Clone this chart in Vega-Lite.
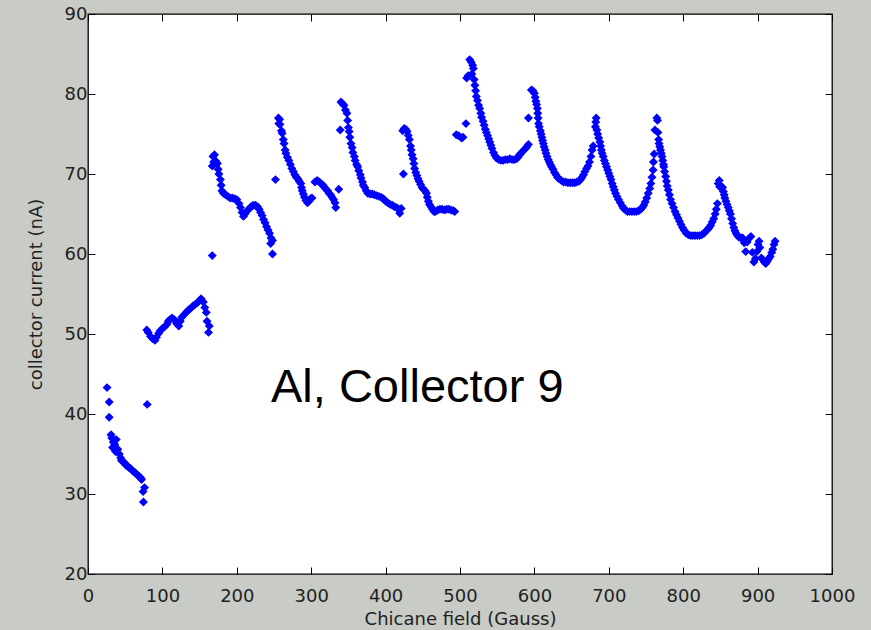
{
"$schema": "https://vega.github.io/schema/vega-lite/v6.json",
"width": 744, "height": 560,
"autosize": {"type": "none"},
"padding": {"left": 88, "top": 14, "right": 39, "bottom": 56},
"background": "#c8cbc6",
"config": {
  "view": {"fill": "#ffffff", "stroke": "#000000", "strokeWidth": 1.3},
  "axis": {"domain": false, "grid": false, "tickColor": "#000000", "tickSize": -7, "tickWidth": 1, "labelFlush": false, "labelOverlap": false,
           "labelFont": "DejaVu Sans", "labelFontSize": 18, "labelColor": "#222222",
           "titleFont": "DejaVu Sans", "titleFontSize": 18, "titleFontWeight": "normal", "titleColor": "#222222"}
},
"datasets": {
"pts": [
{"x":25.6,"y":43.3},{"x":28.5,"y":41.5},{"x":28.5,"y":39.6},{"x":31,"y":37.4},{"x":32,"y":37},{"x":34,"y":36.5},{"x":33,"y":35.8},{"x":36,"y":36.2},{"x":38,"y":36.8},{"x":37,"y":35.3},{"x":40,"y":35.6},{"x":42,"y":35},{"x":44,"y":34.5},{"x":45,"y":34.2},{"x":47,"y":34},{"x":49,"y":33.9},{"x":51,"y":33.6},{"x":53,"y":33.5},{"x":55,"y":33.3},{"x":57,"y":33.2},{"x":59,"y":33},{"x":61,"y":32.8},{"x":63,"y":32.7},{"x":65,"y":32.5},{"x":67,"y":32.3},{"x":69,"y":32.2},{"x":71,"y":32},{"x":72,"y":31.8},{"x":76,"y":30.8},{"x":74,"y":30.3},{"x":74.5,"y":29},{"x":79.6,"y":41.2},
{"x":79,"y":50.5},{"x":81,"y":50.2},{"x":84,"y":49.7},{"x":87,"y":49.4},{"x":90,"y":49.2},{"x":92,"y":49.6},{"x":95,"y":50.1},{"x":97,"y":50.4},{"x":100,"y":50.7},{"x":103,"y":50.9},{"x":106,"y":51.2},{"x":108,"y":51.6},{"x":110,"y":51.8},{"x":113,"y":52},{"x":116,"y":51.8},{"x":119,"y":51.3},{"x":122,"y":51},{"x":124,"y":51.6},{"x":126,"y":52.1},{"x":129,"y":52.4},{"x":132,"y":52.7},{"x":135,"y":53},{"x":138,"y":53.2},{"x":141,"y":53.5},{"x":144,"y":53.7},{"x":147,"y":53.9},{"x":150,"y":54.2},{"x":152,"y":54.4},{"x":155,"y":54},{"x":157,"y":53.3},{"x":159,"y":52.7},{"x":160,"y":51.6},{"x":163,"y":51},{"x":162,"y":50.2},
{"x":167,"y":59.8},
{"x":168,"y":72.2},{"x":170,"y":72.4},{"x":169,"y":71.5},{"x":167,"y":71},{"x":172,"y":71.6},{"x":174,"y":71.3},{"x":175,"y":70.6},{"x":176,"y":70},{"x":178,"y":69.3},{"x":179,"y":68.6},{"x":180,"y":67.9},{"x":182,"y":67.6},{"x":185,"y":67.4},{"x":188,"y":67.2},{"x":191,"y":67},{"x":194,"y":67},{"x":197,"y":66.9},{"x":200,"y":66.8},{"x":203,"y":66.3},{"x":205,"y":65.8},{"x":207,"y":65.2},{"x":209,"y":64.7},{"x":211,"y":65},{"x":213,"y":65.3},{"x":216,"y":65.6},{"x":219,"y":65.9},{"x":222,"y":66.1},{"x":225,"y":66.1},{"x":228,"y":65.9},{"x":230,"y":65.6},{"x":232,"y":65.2},{"x":234,"y":64.8},{"x":236,"y":64.3},{"x":238,"y":63.9},{"x":240,"y":63.4},{"x":242,"y":63},{"x":244,"y":62.6},{"x":246,"y":62},{"x":248,"y":61.7},{"x":245.5,"y":61.3},{"x":248,"y":60},
{"x":252,"y":69.3},
{"x":256,"y":77},{"x":257.5,"y":76.8},{"x":256.5,"y":76.3},{"x":258,"y":76.2},{"x":260,"y":75.4},{"x":261,"y":75.1},{"x":262.5,"y":74.3},{"x":263.5,"y":73.8},{"x":265,"y":73},{"x":266,"y":72.6},{"x":268,"y":72.1},{"x":270,"y":71.7},{"x":272,"y":71.2},{"x":274,"y":70.7},{"x":276,"y":70.3},{"x":278,"y":69.9},{"x":280,"y":69.6},{"x":282,"y":69.4},{"x":284,"y":69.1},{"x":286,"y":68.8},{"x":287,"y":68.3},{"x":288,"y":67.9},{"x":289.5,"y":67.5},{"x":291,"y":67.1},{"x":293,"y":66.7},{"x":295,"y":66.4},{"x":297,"y":66.6},{"x":299,"y":66.9},{"x":301,"y":67},
{"x":305,"y":69},{"x":308,"y":69.2},{"x":311,"y":69},{"x":313,"y":68.8},{"x":316,"y":68.6},{"x":318,"y":68.3},{"x":320,"y":68.1},{"x":322,"y":67.9},{"x":324,"y":67.6},{"x":326,"y":67.4},{"x":328,"y":67.1},{"x":330,"y":66.8},{"x":332,"y":66.4},{"x":333,"y":65.8},{"x":337,"y":68.1},
{"x":339,"y":75.5},{"x":340,"y":79},{"x":342,"y":78.8},{"x":344,"y":78.6},{"x":346,"y":78},{"x":348,"y":77.6},{"x":349,"y":76.7},{"x":350,"y":75.8},{"x":351,"y":75.3},{"x":352,"y":74.6},{"x":353.5,"y":73.8},{"x":355,"y":73.3},{"x":356,"y":72.7},{"x":358,"y":72.2},{"x":359,"y":71.7},{"x":361,"y":71.2},{"x":362.5,"y":70.9},{"x":364,"y":70.4},{"x":366,"y":69.9},{"x":367,"y":69.5},{"x":369,"y":69},{"x":370,"y":68.6},{"x":372,"y":68.3},{"x":374,"y":67.9},{"x":376,"y":67.6},{"x":379,"y":67.5},{"x":382,"y":67.5},{"x":385,"y":67.4},{"x":388,"y":67.3},{"x":391,"y":67.2},{"x":394,"y":67.1},{"x":397,"y":66.9},{"x":400,"y":66.6},{"x":403,"y":66.4},{"x":406,"y":66.2},{"x":409,"y":66.1},{"x":412,"y":65.9},{"x":415,"y":65.8},{"x":418,"y":65.6},{"x":419,"y":65.1},{"x":421,"y":65.7},
{"x":424,"y":70},{"x":423,"y":75.4},{"x":425,"y":75.7},{"x":427,"y":75.6},{"x":429,"y":75.3},{"x":430.5,"y":74.8},{"x":432,"y":74.3},{"x":433.5,"y":73.5},{"x":434.5,"y":73},{"x":435.5,"y":72.4},{"x":437,"y":71.9},{"x":438,"y":71.3},{"x":439,"y":70.7},{"x":440.5,"y":70.2},{"x":442,"y":69.8},{"x":443.5,"y":69.4},{"x":445,"y":69.1},{"x":447,"y":68.7},{"x":449,"y":68.3},{"x":451,"y":68.1},{"x":453,"y":67.9},{"x":455,"y":67.6},{"x":456,"y":67.1},{"x":457.5,"y":66.6},{"x":459,"y":66.2},{"x":461,"y":65.9},{"x":463,"y":65.6},{"x":465,"y":65.3},{"x":467,"y":65.3},{"x":470,"y":65.5},{"x":473,"y":65.6},{"x":476,"y":65.6},{"x":479,"y":65.5},{"x":482,"y":65.6},{"x":485,"y":65.6},{"x":488,"y":65.5},{"x":491,"y":65.4},{"x":493,"y":65.3},
{"x":495,"y":74.9},{"x":498,"y":74.8},{"x":502,"y":74.5},{"x":504,"y":74.6},{"x":508,"y":76.3},
{"x":509,"y":82},{"x":511,"y":82.3},{"x":513,"y":84.3},{"x":515,"y":84},{"x":517,"y":83.6},{"x":518,"y":83.2},{"x":516,"y":82.5},{"x":519,"y":81.8},{"x":520,"y":81.1},{"x":521,"y":80.4},{"x":522,"y":79.7},{"x":523.5,"y":79.2},{"x":525,"y":78.6},{"x":526.5,"y":78.2},{"x":528,"y":77.6},{"x":529,"y":77.1},{"x":531,"y":76.6},{"x":532.5,"y":76.1},{"x":534,"y":75.6},{"x":535.5,"y":75.2},{"x":537,"y":74.8},{"x":538.5,"y":74.4},{"x":540,"y":74},{"x":541.5,"y":73.6},{"x":543,"y":73.2},{"x":545,"y":72.7},{"x":547,"y":72.3},{"x":549,"y":72},{"x":552,"y":71.8},{"x":555,"y":71.7},{"x":558,"y":71.7},{"x":561,"y":71.8},{"x":564,"y":71.8},{"x":567,"y":71.9},{"x":570,"y":71.8},{"x":573,"y":71.8},{"x":576,"y":71.9},{"x":578,"y":72.1},{"x":580,"y":72.4},{"x":582,"y":72.6},{"x":584,"y":72.8},{"x":586,"y":73},{"x":588,"y":73.2},{"x":590,"y":73.4},{"x":592,"y":73.7},
{"x":592,"y":77},
{"x":596,"y":80.5},{"x":598,"y":80.4},{"x":600,"y":80.1},{"x":601,"y":79.6},{"x":602,"y":79.1},{"x":603,"y":78.7},{"x":604,"y":78.2},{"x":604.5,"y":77.6},{"x":605,"y":77},{"x":605.5,"y":76.3},{"x":606.5,"y":75.9},{"x":608,"y":75.4},{"x":609,"y":75},{"x":610,"y":74.6},{"x":611,"y":74.2},{"x":612,"y":73.8},{"x":613,"y":73.4},{"x":614.5,"y":73},{"x":615.5,"y":72.6},{"x":617,"y":72.2},{"x":618.5,"y":71.8},{"x":620,"y":71.5},{"x":621.5,"y":71.2},{"x":623,"y":70.9},{"x":625,"y":70.6},{"x":627,"y":70.2},{"x":629,"y":69.9},{"x":631,"y":69.6},{"x":633,"y":69.4},{"x":636,"y":69.2},{"x":639,"y":69},{"x":642,"y":69},{"x":645,"y":68.9},{"x":648,"y":68.9},{"x":651,"y":68.9},{"x":654,"y":68.9},{"x":657,"y":69},{"x":660,"y":69.1},{"x":662,"y":69.3},{"x":664,"y":69.6},{"x":666,"y":69.9},{"x":668,"y":70.3},{"x":670,"y":70.7},{"x":672,"y":71},{"x":674,"y":71.5},{"x":676,"y":72.2},{"x":677.5,"y":73},{"x":679,"y":73.5},
{"x":683,"y":77},{"x":682.5,"y":76.5},{"x":682,"y":75.9},{"x":684,"y":75.5},{"x":685,"y":75},{"x":686.5,"y":74.5},{"x":688,"y":74},{"x":689,"y":73.5},{"x":690,"y":73},{"x":691,"y":72.6},{"x":692.5,"y":72.2},{"x":694,"y":71.7},{"x":695.5,"y":71.3},{"x":697,"y":70.9},{"x":698.5,"y":70.5},{"x":700,"y":70.1},{"x":701.5,"y":69.7},{"x":703,"y":69.3},{"x":704.5,"y":68.8},{"x":706,"y":68.4},{"x":707.5,"y":68},{"x":709,"y":67.6},{"x":711,"y":67.2},{"x":713,"y":66.8},{"x":715.5,"y":66.4},{"x":718,"y":66},{"x":720,"y":65.7},{"x":722.5,"y":65.5},{"x":725,"y":65.3},{"x":728,"y":65.3},{"x":731,"y":65.3},{"x":734,"y":65.3},{"x":737,"y":65.3},{"x":740,"y":65.4},{"x":743,"y":65.6},{"x":745,"y":65.8},{"x":747,"y":66.1},{"x":749,"y":66.5},{"x":751,"y":67},{"x":753,"y":67.6},{"x":755,"y":68.2},{"x":756.5,"y":68.8},{"x":758,"y":69.6},{"x":759.5,"y":70.5},{"x":760,"y":71.5},{"x":761,"y":72.5},{"x":762,"y":75.5},
{"x":764.5,"y":77},{"x":765.5,"y":76.7},{"x":766,"y":75.2},{"x":767,"y":74.3},{"x":767.5,"y":73.8},{"x":768.5,"y":73.4},{"x":769.5,"y":73},{"x":770.5,"y":72.6},{"x":771.5,"y":72.2},{"x":772.5,"y":71.7},{"x":773.5,"y":71.2},{"x":774,"y":70.9},{"x":775,"y":70.3},{"x":776.5,"y":69.7},{"x":777.5,"y":69.1},{"x":778.5,"y":68.5},{"x":780,"y":68},{"x":781.5,"y":67.4},{"x":783,"y":66.8},{"x":785,"y":66.3},{"x":787,"y":65.8},{"x":789,"y":65.3},{"x":791,"y":64.9},{"x":793,"y":64.5},{"x":795,"y":64.1},{"x":797,"y":63.7},{"x":799,"y":63.3},{"x":801,"y":63},{"x":804,"y":62.6},{"x":807,"y":62.4},{"x":810,"y":62.3},{"x":813,"y":62.3},{"x":816,"y":62.3},{"x":819,"y":62.3},{"x":822,"y":62.3},{"x":825,"y":62.4},{"x":828,"y":62.6},{"x":831,"y":62.9},{"x":833,"y":63.1},{"x":835,"y":63.3},{"x":837,"y":63.6},{"x":839,"y":64},{"x":841,"y":64.4},{"x":843,"y":65},{"x":844.5,"y":65.6},{"x":846,"y":66.3},
{"x":847,"y":68.8},{"x":848.5,"y":69.2},{"x":849,"y":68.4},{"x":851,"y":68.5},{"x":853,"y":68.3},{"x":854,"y":67.8},{"x":855,"y":67.4},{"x":856,"y":67},{"x":857.5,"y":66.6},{"x":859,"y":66.2},{"x":860.5,"y":65.8},{"x":862,"y":65.4},{"x":863.5,"y":65},{"x":865,"y":64.4},{"x":866.5,"y":63.8},{"x":868,"y":63.3},{"x":869.5,"y":62.9},{"x":871,"y":62.6},{"x":873,"y":62.3},{"x":875,"y":62.1},{"x":878,"y":62},{"x":880,"y":62},{"x":882,"y":61.4},{"x":884,"y":60.3},{"x":886,"y":61.5},{"x":888,"y":61.9},{"x":891,"y":62.2},{"x":893,"y":60.2},{"x":895,"y":59},{"x":897,"y":59.4},{"x":899,"y":60.3},{"x":900.5,"y":61.2},{"x":902,"y":61.6},{"x":903,"y":60.8},{"x":905,"y":59.5},{"x":907,"y":59.3},{"x":909,"y":59},{"x":911,"y":58.8},{"x":913,"y":59.1},{"x":915,"y":59.4},{"x":917,"y":59.7},{"x":919,"y":60.2},{"x":920.5,"y":60.6},{"x":922,"y":61.2},{"x":923.5,"y":61.6}
],
"note": [{"x": 246, "y": 41.5, "label": "Al, Collector 9"}]
},
"layer": [
  {
    "data": {"name": "pts"},
    "mark": {"type": "point", "shape": "diamond", "filled": true, "color": "#0000ff", "opacity": 1, "size": 80},
    "encoding": {
      "x": {"field": "x", "type": "quantitative", "scale": {"domain": [0, 1000], "nice": false, "zero": false},
            "axis": {"orient": "bottom", "values": [0,100,200,300,400,500,600,700,800,900,1000], "format": "d", "labelPadding": 20, "title": "Chicane field (Gauss)", "titlePadding": 5}},
      "y": {"field": "y", "type": "quantitative", "scale": {"domain": [20, 90], "nice": false, "zero": false},
            "axis": {"orient": "left", "values": [20,30,40,50,60,70,80,90], "format": "d", "labelPadding": 8, "title": "collector current (nA)", "titlePadding": 19}}
    }
  },
  {
    "data": {"name": "pts"},
    "mark": {"type": "point", "opacity": 0},
    "encoding": {
      "x": {"field": "x", "type": "quantitative", "axis": {"orient": "top", "values": [0,100,200,300,400,500,600,700,800,900,1000], "labels": false, "title": null}},
      "y": {"field": "y", "type": "quantitative", "axis": {"orient": "right", "values": [20,30,40,50,60,70,80,90], "labels": false, "title": null}}
    }
  },
  {
    "data": {"name": "note"},
    "mark": {"type": "text", "font": "Liberation Sans", "fontSize": 47, "align": "left", "baseline": "alphabetic", "color": "#000000"},
    "encoding": {
      "x": {"field": "x", "type": "quantitative", "axis": null},
      "y": {"field": "y", "type": "quantitative", "axis": null},
      "text": {"field": "label"}
    }
  }
],
"resolve": {"axis": {"x": "independent", "y": "independent"}}
}
